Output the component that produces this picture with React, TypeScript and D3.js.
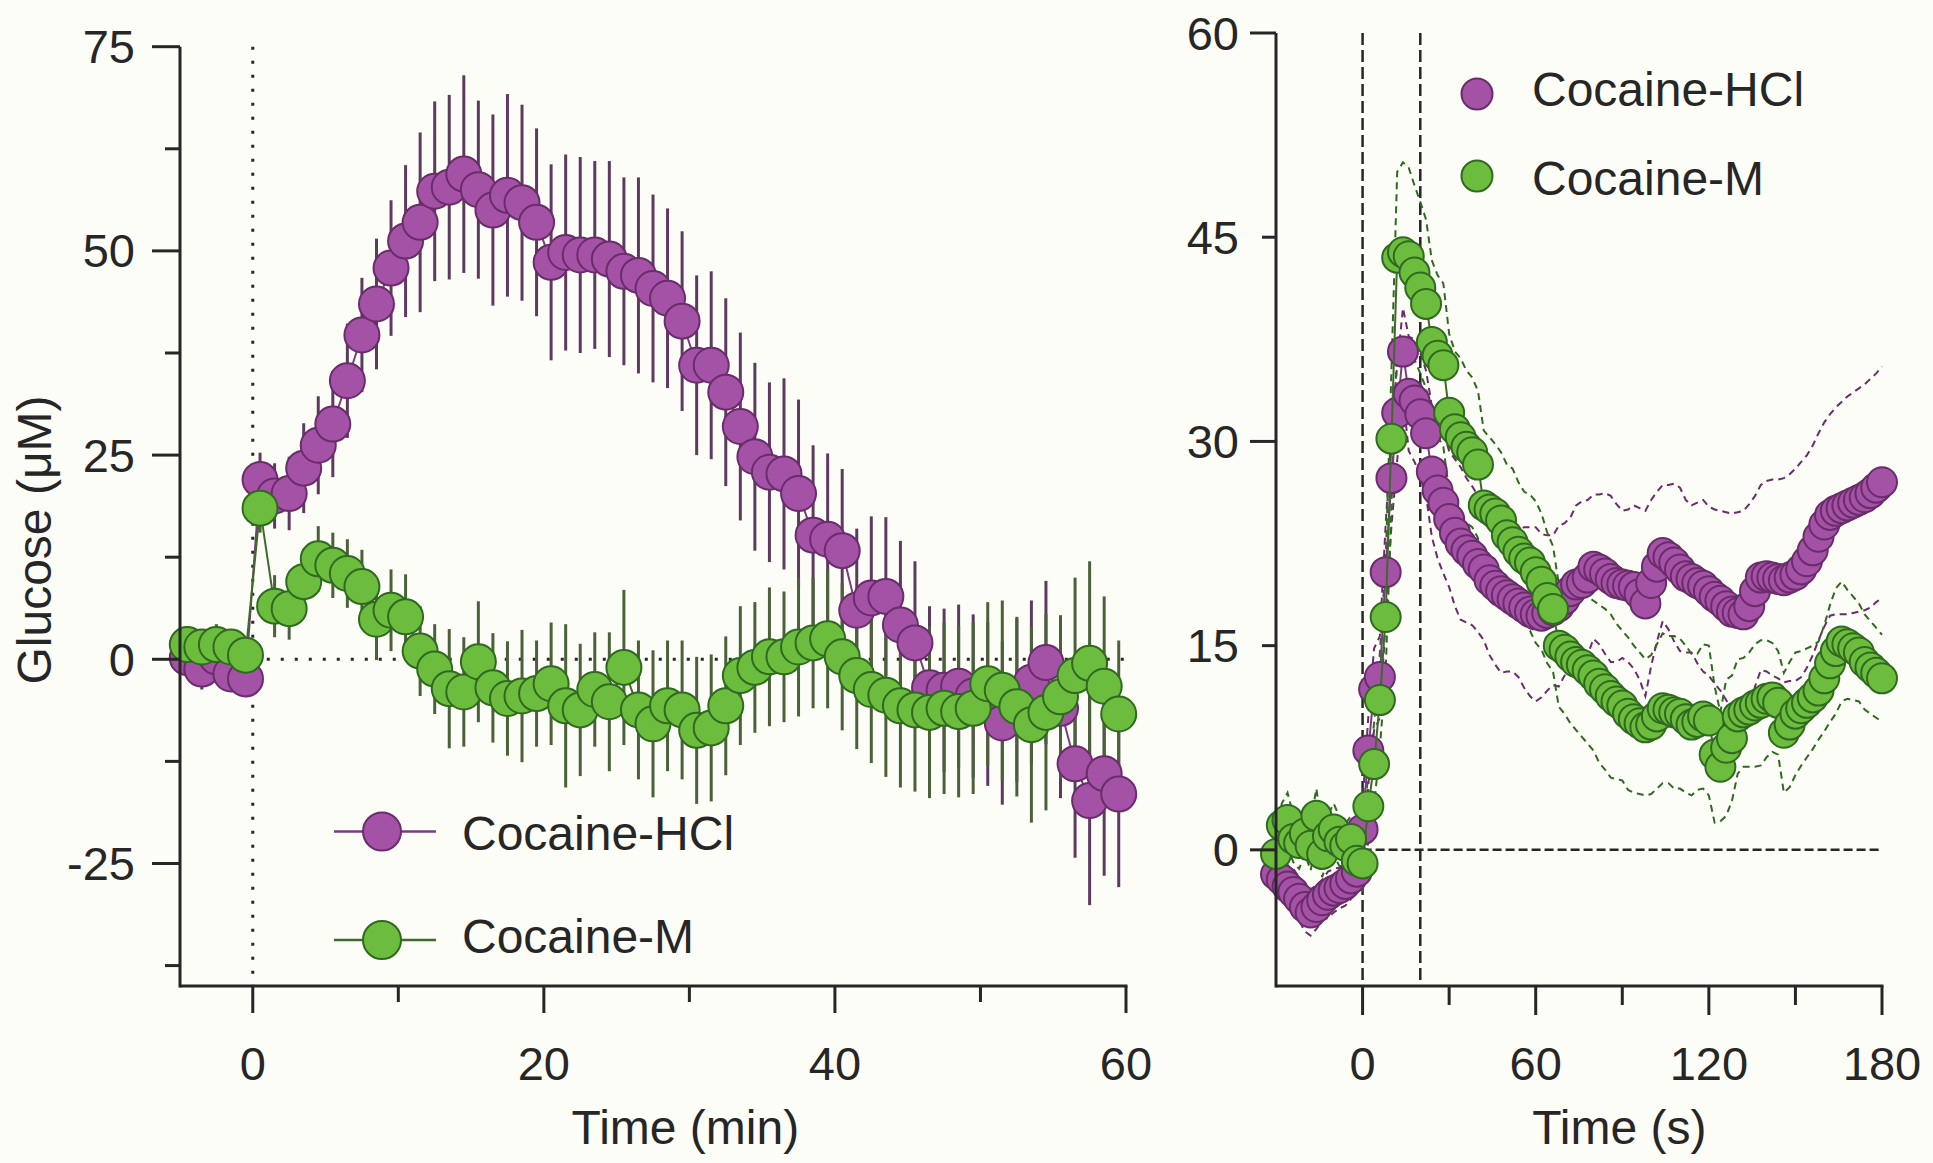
import React from 'react';
import * as d3 from 'd3';

const FONT = '"Liberation Sans", Arial, Helvetica, sans-serif';
const BG = '#fdfdf8';
const INK = '#262626';
const P_FILL = '#a452a6';
const P_STROKE = '#6a2c6b';
const P_BAR = '#5e3a5f';
const P_LINE = '#7a3d7b';
const G_FILL = '#6cbd3d';
const G_STROKE = '#2f6a20';
const G_BAR = '#4a6139';
const G_LINE = '#3e6a2c';

const seriesNames = ['Cocaine-HCl', 'Cocaine-M'];

// ---------- Left panel: Time (min) ----------
const leftTimes = d3.range(-4.5, 60, 1);
const leftPurple = [
  0.2, -1.2, 0.3, -1.8, -2.4,
  22, 20, 20.3, 23.4, 26.2, 28.8, 34.1, 39.7, 43.5, 47.9,
  51.2, 53.5, 57.3, 57.8, 59.4, 57.5, 55, 56.8, 55.9, 53.5,
  48.6, 49.8, 49.5, 49.5, 49, 47.5, 47, 45.4, 44.2, 41.4,
  36, 36, 32.7, 28.5, 24.8, 22.9, 22.7, 20.3, 15.2, 14.7,
  13.3, 6.0, 7.5, 7.7, 4.2, 2.0, -3.5, -3.8, -3.3, -4.5,
  -5.5, -7.8, -5.0, -2.8, -0.4, -6.0, -12.8, -17.3, -14.0, -16.5,
];
const leftPurpleSE = [
  2, 2.5, 2.5, 2, 2,
  3.3, 4, 4.5, 5.5, 6, 6.5, 7, 7, 8, 8.3,
  9.3, 11, 11, 11.3, 12.1, 10.9, 11.7, 12.4, 12, 11.5,
  12, 12, 12, 11.5, 12, 11.5, 12, 11.5, 11, 11,
  11, 11.5, 11.5, 11.5, 11.5, 11, 11.7, 11.5, 11, 10.5,
  10, 10, 10, 9.7, 10.3, 10, 10, 10, 10, 10,
  10, 10, 10, 10, 10, 11, 11.5, 12.8, 12.5, 11.4,
];
const leftGreen = [
  1.8, 1.5, 1.8, 1.5, 0.5,
  18.5, 6.5, 6.2, 9.5, 12.3, 11.5, 10.5, 8.9, 4.9, 6.0,
  5.2, 1.0, -1.2, -3.6, -4.0, -0.3, -3.5, -4.8, -4.5, -4.2,
  -3.0, -5.7, -6.2, -3.7, -5.2, -1.0, -6.2, -7.9, -5.7, -6.2,
  -8.7, -8.4, -5.7, -2.0, -1.0, 0.3, 0.3, 1.5, 2.0, 2.5,
  0.3, -2.0, -3.7, -4.4, -5.7, -6.2, -6.5, -6.0, -6.4, -6.0,
  -3.0, -3.8, -5.8, -8.0, -6.5, -4.6, -2.0, -0.5, -3.3, -6.7,
];
const leftGreenSE = [
  2, 2, 2.5, 2, 2,
  3, 3.8, 3.8, 4, 4, 4, 4.2, 4.5, 5, 5,
  5.2, 5.5, 5.5, 7.3, 6.7, 7.4, 6.7, 7, 8.1, 6.5,
  7.5, 10, 8.1, 7, 8.5, 9.5, 8.5, 9, 8, 8.5,
  9, 9, 8.5, 8.5, 8, 8.5, 8, 8.5, 8, 8.5,
  9, 9, 9, 10, 10, 10, 10.5, 10.5, 10.5, 10.5,
  10, 11, 11, 12, 12, 10, 12, 12.5, 11, 9,
];
const leftXMajor = [0, 20, 40, 60];
const leftXMinor = [10, 30, 50];
const leftYMajor = [75, 50, 25, 0, -25];
const leftYMinor = [62.5, 37.5, 12.5, -12.5, -37.5];

// ---------- Right panel: Time (s) ----------
const rightTimes = d3.range(-30, 181, 2);
const rightPurple = [
  -1.8, -2.2, -2.7, -3.1, -3.6, -4.2, -4.6, -4.2, -3.7, -3.3,
  -3.0, -2.8, -2.5, -2.1, -1.6, 1.5, 7.3, 11.8, 12.7, 20.4,
  27.3, 32.1, 36.6, 33.5, 33.0, 32.0, 30.6, 27.8, 26.4, 25.5,
  24.3, 23.3, 22.5, 22.0, 21.6, 21.0, 20.6, 19.8, 19.4, 19.0,
  18.7, 18.4, 18.1, 17.8, 17.5, 17.3, 17.2, 17.4, 17.6, 17.9,
  18.4, 19.0, 19.5, 19.6, 20.0, 20.8, 20.6, 20.3, 19.9, 19.6,
  19.5, 19.4, 19.3, 18.8, 18.1, 19.6, 20.8, 21.8, 21.5, 21.1,
  20.6, 20.1, 19.9, 19.6, 19.4, 19.0, 18.6, 18.3, 17.9, 17.5,
  17.4, 17.3, 17.9, 19.0, 20.0, 20.1, 20.0, 19.9, 19.8, 20.0,
  20.2, 20.6, 21.2, 22.0, 23.0, 23.9, 24.6, 24.9, 25.1, 25.3,
  25.5, 25.7, 25.9, 26.2, 26.6, 27.0,
];
const rightPurpleSE = [
  1.5, 1.6, 1.5, 1.7, 1.6, 1.8, 1.7, 1.6, 1.5, 1.7,
  1.6, 1.5, 1.6, 1.5, 1.6, 2.0, 2.5, 3.0, 3.0, 3.5,
  3.5, 3.5, 3.2, 4.2, 4.5, 4.5, 4.6, 4.8, 5.0, 5.2,
  5.0, 5.4, 5.6, 5.3, 5.1, 5.0, 5.2, 5.5, 5.8, 6.0,
  5.6, 5.3, 5.4, 5.9, 6.2, 6.4, 6.0, 5.7, 5.5, 5.9,
  5.6, 5.4, 5.8, 6.0, 5.7, 5.3, 5.5, 5.9, 6.1, 5.8,
  5.4, 5.6, 6.0, 6.3, 6.8, 6.1, 5.5, 5.0, 5.3, 5.8,
  6.0, 5.6, 5.4, 5.9, 6.3, 6.2, 6.4, 6.6, 6.9, 7.2,
  7.4, 7.6, 7.5, 7.0, 6.8, 7.0, 7.2, 7.3, 7.5, 7.6,
  7.8, 7.9, 7.8, 7.7, 7.6, 7.5, 7.4, 7.6, 7.8, 8.0,
  8.1, 8.2, 8.3, 8.4, 8.4, 8.5,
];
const rightGreen = [
  -0.3, 1.8, 2.2, 0.8, 0.5, 1.2, 0.3, 2.5, -0.3, 1.0,
  1.5, 0.6, 0.3, 0.8, -0.8, -1.0, 3.2, 6.3, 11.0, 17.1,
  30.2, 43.5, 43.9, 43.6, 42.4, 41.3, 40.1, 37.3, 36.3, 35.6,
  32.1, 30.9, 30.3, 29.6, 29.2, 28.3, 25.3, 25.0, 24.7, 24.2,
  23.1, 22.6, 21.9, 21.4, 21.1, 20.4, 19.7, 18.5, 17.7, 15.0,
  14.7, 14.2, 13.8, 13.6, 13.2, 12.8, 12.2, 11.8, 11.3, 10.9,
  10.6, 10.0, 9.6, 9.3, 9.0, 9.2, 9.8, 10.4, 10.3, 10.1,
  10.0, 9.6, 9.2, 9.4, 9.8, 9.5, 7.0, 6.1, 7.5, 8.2,
  9.8, 10.1, 10.3, 10.6, 10.8, 11.1, 11.2, 10.8, 8.6, 9.2,
  10.0, 10.4, 10.8, 11.2, 11.7, 12.6, 13.7, 14.6, 15.3, 15.1,
  14.8, 14.5, 13.8, 13.4, 13.0, 12.6,
];
const rightGreenSE = [
  1.8, 1.6, 2.0, 1.7, 1.9, 1.5, 1.8, 2.0, 1.7, 1.6,
  1.9, 1.8, 1.6, 1.7, 1.8, 2.0, 2.5, 3.0, 3.5, 4.0,
  5.0, 6.3, 6.6, 6.5, 6.4, 6.3, 6.2, 6.0, 5.9, 6.0,
  5.8, 5.7, 5.8, 5.6, 5.5, 5.4, 5.5, 5.3, 5.1, 5.0,
  5.2, 5.4, 5.1, 4.9, 5.0, 5.2, 5.0, 4.8, 4.6, 4.5,
  4.7, 4.9, 5.0, 5.3, 5.4, 5.5, 5.8, 5.9, 6.0, 5.7,
  5.5, 5.6, 5.4, 5.2, 5.0, 5.1, 5.3, 5.5, 5.4, 5.6,
  5.5, 5.4, 5.2, 5.0, 5.3, 5.5, 5.0, 4.0, 5.0, 4.6,
  4.2, 4.0, 4.2, 4.5, 4.6, 4.3, 4.0, 3.8, 4.4, 4.6,
  4.5, 4.2, 4.0, 3.8, 3.6, 3.9, 4.3, 4.6, 4.4, 4.0,
  3.8, 3.6, 3.5, 3.4, 3.3, 3.2,
];
const rightXMajor = [0, 60, 120, 180];
const rightXMinor = [30, 90, 150];
const rightYMajor = [60, 30, 0];
const rightYMinor = [45, 15];
const rightMarkers = [0, 20]; // vertical dashed lines (s)

type Pt = { t: number; v: number; se: number };
const zip = (ts: number[], vs: number[], ses: number[]): Pt[] =>
  ts.map((t, i) => ({ t, v: vs[i], se: ses[i] }));

export default function App() {
  const xL = d3.scaleLinear().domain([-5, 60]).range([180, 1126]);
  const yL = d3.scaleLinear().domain([-40, 75]).range([986, 46.7]);
  const xR = d3.scaleLinear().domain([-30, 180]).range([1276, 1882]);
  const yR = d3.scaleLinear().domain([-10, 60]).range([986, 33]);

  const lp = zip(leftTimes, leftPurple, leftPurpleSE);
  const lg = zip(leftTimes, leftGreen, leftGreenSE);
  const rp = zip(rightTimes, rightPurple, rightPurpleSE);
  const rg = zip(rightTimes, rightGreen, rightGreenSE);

  const lineL = d3.line<Pt>().x((d) => xL(d.t)).y((d) => yL(d.v));
  const lineR = d3.line<Pt>().x((d) => xR(d.t)).y((d) => yR(d.v));
  const upR = d3.line<Pt>().x((d) => xR(d.t)).y((d) => yR(d.v + d.se));
  const loR = d3.line<Pt>().x((d) => xR(d.t)).y((d) => yR(d.v - d.se));

  const AX = 3;
  const tick = { fontFamily: FONT, fontSize: 47, fill: INK } as const;
  const txt = { fontFamily: FONT, fontSize: 48, fill: INK } as const;

  return (
    <div style={{ position: 'absolute', left: 0, top: 0 }}>
      <svg width={1933} height={1163} style={{ display: 'block', background: BG }}>
        <rect x={0} y={0} width={1933} height={1163} fill={BG} />

        {/* ================= LEFT PANEL ================= */}
        <line x1={xL(0)} x2={xL(0)} y1={yL(75)} y2={yL(-40)} stroke={INK} strokeWidth={3} strokeDasharray="3 11" />
        <line x1={xL(0)} x2={xL(60)} y1={yL(0)} y2={yL(0)} stroke={INK} strokeWidth={3} strokeDasharray="3 11" />

        <g>
          {lp.map((d, i) => (
            <line key={'pb' + i} x1={xL(d.t)} x2={xL(d.t)} y1={yL(d.v - d.se)} y2={yL(d.v + d.se)} stroke={P_BAR} strokeWidth={3} />
          ))}
          {lg.map((d, i) => (
            <line key={'gb' + i} x1={xL(d.t)} x2={xL(d.t)} y1={yL(d.v - d.se)} y2={yL(d.v + d.se)} stroke={G_BAR} strokeWidth={3} />
          ))}
        </g>
        <path d={lineL(lp) || ''} fill="none" stroke={P_LINE} strokeWidth={2} />
        {lp.map((d, i) => (
          <circle key={'pc' + i} cx={xL(d.t)} cy={yL(d.v)} r={17.5} fill={P_FILL} stroke={P_STROKE} strokeWidth={2} />
        ))}
        <path d={lineL(lg) || ''} fill="none" stroke={G_LINE} strokeWidth={2} />
        {lg.map((d, i) => (
          <circle key={'gc' + i} cx={xL(d.t)} cy={yL(d.v)} r={17.5} fill={G_FILL} stroke={G_STROKE} strokeWidth={2} />
        ))}

        <line x1={xL(-5)} x2={xL(-5)} y1={yL(75)} y2={yL(-40) + AX / 2} stroke={INK} strokeWidth={AX} />
        <line x1={xL(-5)} x2={xL(60) + AX / 2} y1={yL(-40)} y2={yL(-40)} stroke={INK} strokeWidth={AX} />
        {leftYMajor.map((v) => (
          <g key={'lym' + v}>
            <line x1={xL(-5) - 28} x2={xL(-5)} y1={yL(v)} y2={yL(v)} stroke={INK} strokeWidth={AX} />
            <text x={135} y={yL(v) + 16.5} textAnchor="end" {...tick}>{v}</text>
          </g>
        ))}
        {leftYMinor.map((v) => (
          <line key={'lyn' + v} x1={xL(-5) - 15} x2={xL(-5)} y1={yL(v)} y2={yL(v)} stroke={INK} strokeWidth={AX} />
        ))}
        {leftXMajor.map((v) => (
          <g key={'lxm' + v}>
            <line x1={xL(v)} x2={xL(v)} y1={yL(-40)} y2={yL(-40) + 27} stroke={INK} strokeWidth={AX} />
            <text x={xL(v)} y={1080} textAnchor="middle" {...tick}>{v}</text>
          </g>
        ))}
        {leftXMinor.map((v) => (
          <line key={'lxn' + v} x1={xL(v)} x2={xL(v)} y1={yL(-40)} y2={yL(-40) + 16} stroke={INK} strokeWidth={AX} />
        ))}
        <text x={xL(30) - 4} y={1144} textAnchor="middle" {...txt}>Time (min)</text>
        <text transform="translate(51,540) rotate(-90)" textAnchor="middle" {...txt}>Glucose (μM)</text>

        <line x1={334} x2={436} y1={831.5} y2={831.5} stroke={P_LINE} strokeWidth={2.5} />
        <circle cx={382} cy={831.5} r={19} fill={P_FILL} stroke={P_STROKE} strokeWidth={2} />
        <text x={462} y={850} {...txt}>{seriesNames[0]}</text>
        <line x1={334} x2={436} y1={940} y2={940} stroke={G_LINE} strokeWidth={2.5} />
        <circle cx={382} cy={940} r={19} fill={G_FILL} stroke={G_STROKE} strokeWidth={2} />
        <text x={462} y={953} {...txt}>{seriesNames[1]}</text>

        {/* ================= RIGHT PANEL ================= */}
        {rightMarkers.map((m) => (
          <line key={'vm' + m} x1={xR(m)} x2={xR(m)} y1={yR(60)} y2={yR(-10) - 6} stroke={INK} strokeWidth={2.5} strokeDasharray="12 5" />
        ))}
        <line x1={xR(0)} x2={xR(180)} y1={yR(0)} y2={yR(0)} stroke={INK} strokeWidth={2.5} strokeDasharray="9 4" />

        <path d={upR(rp) || ''} fill="none" stroke={P_STROKE} strokeWidth={2} strokeDasharray="7 5" />
        <path d={loR(rp) || ''} fill="none" stroke={P_STROKE} strokeWidth={2} strokeDasharray="7 5" />
        <path d={upR(rg) || ''} fill="none" stroke={G_STROKE} strokeWidth={2} strokeDasharray="7 5" />
        <path d={loR(rg) || ''} fill="none" stroke={G_STROKE} strokeWidth={2} strokeDasharray="7 5" />

        <path d={lineR(rp) || ''} fill="none" stroke={P_LINE} strokeWidth={2} />
        {rp.map((d, i) => (
          <circle key={'rpc' + i} cx={xR(d.t)} cy={yR(d.v)} r={15} fill={P_FILL} stroke={P_STROKE} strokeWidth={2} />
        ))}
        <path d={lineR(rg) || ''} fill="none" stroke={G_LINE} strokeWidth={2} />
        {rg.map((d, i) => (
          <circle key={'rgc' + i} cx={xR(d.t)} cy={yR(d.v)} r={15} fill={G_FILL} stroke={G_STROKE} strokeWidth={2} />
        ))}

        <line x1={xR(-30)} x2={xR(-30)} y1={yR(60)} y2={yR(-10) + AX / 2} stroke={INK} strokeWidth={AX} />
        <line x1={xR(-30)} x2={xR(180) + AX / 2} y1={yR(-10)} y2={yR(-10)} stroke={INK} strokeWidth={AX} />
        {rightYMajor.map((v) => (
          <g key={'rym' + v}>
            <line x1={xR(-30) - 26} x2={xR(-30)} y1={yR(v)} y2={yR(v)} stroke={INK} strokeWidth={AX} />
            <text x={1239} y={yR(v) + 16.5} textAnchor="end" {...tick}>{v}</text>
          </g>
        ))}
        {rightYMinor.map((v) => (
          <g key={'ryn' + v}>
            <line x1={xR(-30) - 14} x2={xR(-30)} y1={yR(v)} y2={yR(v)} stroke={INK} strokeWidth={AX} />
            <text x={1239} y={yR(v) + 16.5} textAnchor="end" {...tick}>{v}</text>
          </g>
        ))}
        {rightXMajor.map((v) => (
          <g key={'rxm' + v}>
            <line x1={xR(v)} x2={xR(v)} y1={yR(-10)} y2={yR(-10) + 29} stroke={INK} strokeWidth={AX} />
            <text x={xR(v)} y={1080} textAnchor="middle" {...tick}>{v}</text>
          </g>
        ))}
        {rightXMinor.map((v) => (
          <line key={'rxn' + v} x1={xR(v)} x2={xR(v)} y1={yR(-10)} y2={yR(-10) + 19} stroke={INK} strokeWidth={AX} />
        ))}
        <text x={xR(90) - 3} y={1144} textAnchor="middle" {...txt}>Time (s)</text>

        <circle cx={1477} cy={94} r={15.5} fill={P_FILL} stroke={P_STROKE} strokeWidth={2} />
        <text x={1532} y={106} {...txt}>{seriesNames[0]}</text>
        <circle cx={1477} cy={176} r={15.5} fill={G_FILL} stroke={G_STROKE} strokeWidth={2} />
        <text x={1532} y={195} {...txt}>{seriesNames[1]}</text>
      </svg>
    </div>
  );
}
